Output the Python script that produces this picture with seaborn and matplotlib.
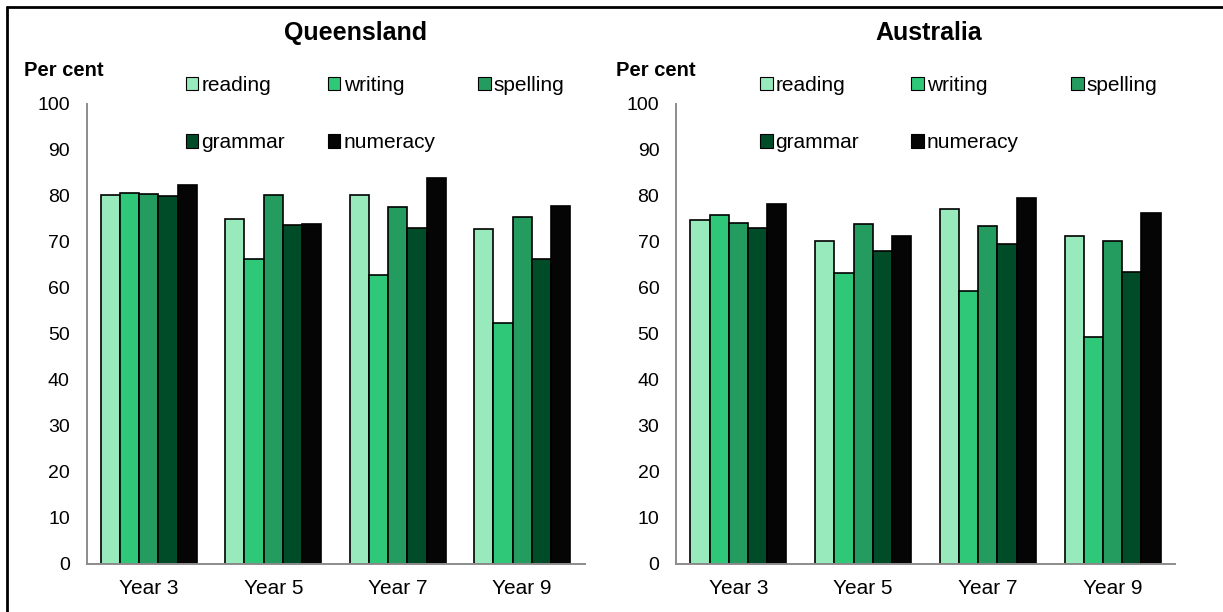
import pandas as pd
import matplotlib.pyplot as plt
import seaborn as sns
from matplotlib.lines import Line2D

# categories / series
years = ["Year 3", "Year 5", "Year 7", "Year 9"]
subjects = ["reading", "writing", "spelling", "grammar", "numeracy"]
colors = ["#98e9bc", "#2ec878", "#249b5f", "#004c28", "#050505"]

# Queensland (per cent)
qld_reading = [80.3, 74.9, 80.3, 72.8]
qld_writing = [80.6, 66.4, 62.8, 52.3]
qld_spelling = [80.4, 80.2, 77.7, 75.5]
qld_grammar = [80.0, 73.8, 73.1, 66.4]
qld_numeracy = [82.4, 74.0, 84.0, 77.9]

# Australia (per cent)
aus_reading = [74.7, 70.3, 77.2, 71.2]
aus_writing = [75.9, 63.3, 59.3, 49.4]
aus_spelling = [74.1, 73.9, 73.4, 70.2]
aus_grammar = [73.0, 68.0, 69.6, 63.5]
aus_numeracy = [78.2, 71.3, 79.5, 76.3]


def long_df(*series):
    rows = []
    for subj, vals in zip(subjects, series):
        for yr, v in zip(years, vals):
            rows.append({"year": yr, "subject": subj, "value": v})
    return pd.DataFrame(rows)


qld = long_df(qld_reading, qld_writing, qld_spelling, qld_grammar, qld_numeracy)
aus = long_df(aus_reading, aus_writing, aus_spelling, aus_grammar, aus_numeracy)

sns.set_style("white")
plt.rcParams["font.family"] = ["Liberation Sans", "DejaVu Sans"]
plt.rcParams["text.color"] = "black"
plt.rcParams["xtick.color"] = "black"
plt.rcParams["ytick.color"] = "black"

W, H = 1223, 612
fig = plt.figure(figsize=(12.23, 6.12), dpi=100)

panels = [
    ("Queensland", qld, 86.5, 584.5, 356, 24, 186, 2.05),
    ("Australia", aus, 676, 1175, 929, 616, 760, 2.5),
]

grey = "#8c8c8c"
for title, df, x0, x1, tx, px, lx, colsp in panels:
    ax = fig.add_axes([x0 / W, 1 - 564 / H, (x1 - x0) / W, (564 - 104) / H])
    sns.barplot(
        data=df, x="year", y="value", hue="subject", order=years,
        hue_order=subjects, palette=colors, saturation=1, width=0.77,
        edgecolor="black", linewidth=1.2, ax=ax,
    )
    ax.set_ylim(0, 100)
    ax.set_xlim(-0.5, 3.5)
    ax.set_yticks(range(0, 101, 10))
    ax.set_xlabel("")
    ax.set_ylabel("")
    ax.set_xticks([-0.5, 0.5, 1.5, 2.5, 3.5], minor=True)
    ax.tick_params(axis="x", which="major", length=0, labelsize=15, pad=11)
    ax.tick_params(axis="x", which="minor", length=6, color=grey, width=1.2)
    ax.tick_params(axis="y", length=5, color=grey, width=1.2, labelsize=14, pad=7)
    sns.despine(ax=ax)
    for s in ["left", "bottom"]:
        ax.spines[s].set_color(grey)
        ax.spines[s].set_linewidth(1.4)

    handles, labels = ax.get_legend_handles_labels()
    ax.get_legend().remove()
    for h in handles:
        h.set_edgecolor("black")
        h.set_linewidth(0.8)
    order = [0, 3, 1, 4, 2]
    ax.legend(
        [handles[i] for i in order], [labels[i] for i in order],
        ncol=3, loc="center left", bbox_to_anchor=(lx / W, 1 - 114 / H),
        bbox_transform=fig.transFigure, frameon=False, fontsize=15,
        handlelength=0.6, handleheight=0.6, handletextpad=0.15,
        columnspacing=colsp, labelspacing=1.85, borderpad=0, borderaxespad=0,
    )

    fig.text(tx / W, 1 - 33 / H, title, ha="center", va="center",
             fontsize=18, fontweight="bold")
    fig.text(px / W, 1 - 70 / H, "Per cent", ha="left", va="center",
             fontsize=14.5, fontweight="bold")

# outer frame (top and left edges visible)
fig.add_artist(Line2D([7 / W, 1.0], [1 - 7 / H, 1 - 7 / H], color="black", lw=2,
                      transform=fig.transFigure))
fig.add_artist(Line2D([7 / W, 7 / W], [0.0, 1 - 7 / H], color="black", lw=2,
                      transform=fig.transFigure))

fig.savefig("out.png", dpi=100)
